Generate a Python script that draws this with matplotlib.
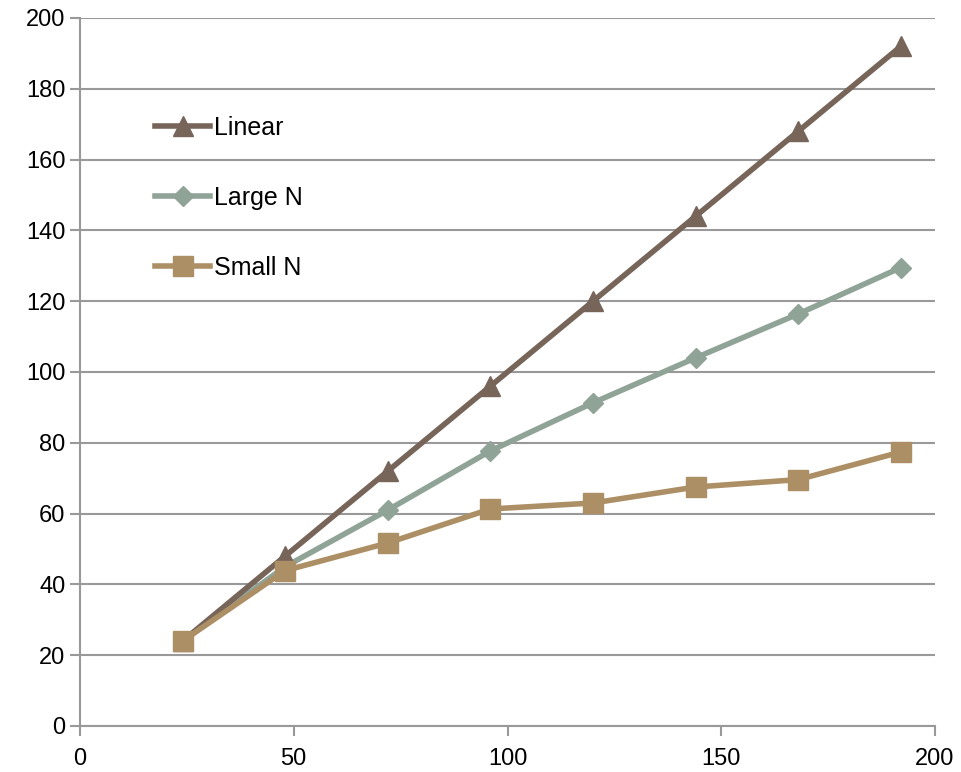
import matplotlib
matplotlib.use("Agg")
from matplotlib import pyplot as plt

x = [24, 48, 72, 96, 120, 144, 168, 192]
linear = [24, 48, 72, 96, 120, 144, 168, 192]
large_n = [24, 45, 61, 77.7, 91.3, 104, 116.4, 129.5]
small_n = [24, 43.9, 51.7, 61.3, 63, 67.5, 69.6, 77.4]

x_ticks = [0, 50, 100, 150, 200]
y_ticks = [0, 20, 40, 60, 80, 100, 120, 140, 160, 180, 200]

plt.rcParams["font.family"] = ["Liberation Sans", "DejaVu Sans"]

fig = plt.figure(figsize=(9.61, 7.72), dpi=100)
ax = fig.add_axes([0.0832, 0.0596, 0.8898, 0.9171])

ax.plot(x, linear, color="#77655a", lw=4, marker="^", ms=14, label="Linear", zorder=5)
ax.plot(x, large_n, color="#8fa397", lw=4, marker="D", ms=10, label="Large N", zorder=4)
ax.plot(x, small_n, color="#ad8f65", lw=4, marker="s", ms=14, label="Small N", zorder=6)

ax.set_xlim(0, 200)
ax.set_ylim(0, 200)
ax.set_xticks(x_ticks)
ax.set_yticks(y_ticks)
ax.yaxis.grid(True, color="#999999", lw=1.5)
ax.set_axisbelow(True)

for s in ["top", "right"]:
    ax.spines[s].set_visible(False)
for s in ["left", "bottom"]:
    ax.spines[s].set_color("#999999")
    ax.spines[s].set_linewidth(1.5)
ax.tick_params(axis="both", colors="#999999", width=1.5, length=7, labelcolor="black", labelsize=17)
ax.tick_params(axis="x", pad=9)

leg = ax.legend(loc="upper left", bbox_to_anchor=(0.062, 0.894), frameon=False, fontsize=18,
                handlelength=2.2, handletextpad=0.16, labelspacing=1.85)

plt.savefig("out.png", dpi=100)
plt.close()
